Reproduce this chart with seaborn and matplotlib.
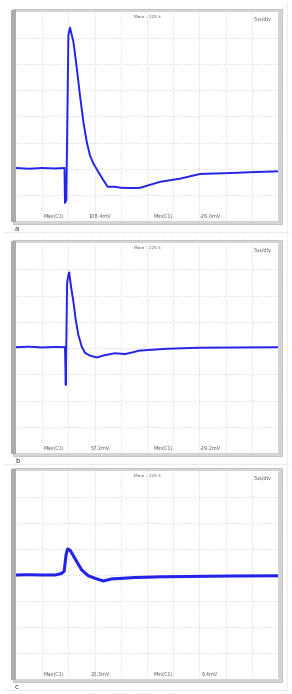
import matplotlib
matplotlib.use("Agg")
import matplotlib.pyplot as plt
from matplotlib.patches import Rectangle
from matplotlib.lines import Line2D
import seaborn as sns
import pandas as pd

# ---- data (time and voltage in screen divisions) ----
t_a = [0.0, 0.5, 1.0, 1.5, 1.85, 1.87, 1.92, 2.0, 2.06, 2.19, 2.32, 2.44, 2.57, 2.70, 2.82,
       2.95, 3.14, 3.33, 3.50, 3.78, 4.03, 4.48, 4.73, 5.5, 6.26, 7.02, 8.29, 9.0, 10.0]
v_a = [-1.97, -2.0, -1.97, -1.99, -1.97, -3.31, -3.2, 3.12, 3.40, 2.87, 1.85, 0.82, -0.2, -0.97,
       -1.48, -1.79, -2.12, -2.43, -2.69, -2.69, -2.73, -2.74, -2.73, -2.5, -2.38, -2.2, -2.16,
       -2.13, -2.1]

t_b = [0.0, 0.5, 1.0, 1.5, 1.87, 1.90, 1.95, 2.0, 2.03, 2.10, 2.19, 2.28, 2.38, 2.51, 2.63,
       2.82, 3.08, 3.40, 3.78, 4.16, 4.48, 4.7, 5.73, 7.0, 8.5, 10.0]
v_b = [0.03, 0.05, 0.02, 0.04, 0.03, -1.41, 2.47, 2.79, 2.88, 2.34, 1.77, 1.07, 0.50, 0.05,
       -0.18, -0.29, -0.36, -0.27, -0.2, -0.23, -0.16, -0.1, -0.03, 0.01, 0.02, 0.03]

t_c = [0.0, 0.5, 1.0, 1.5, 1.74, 1.84, 1.91, 1.97, 2.06, 2.19, 2.32, 2.51, 2.76, 3.02, 3.33,
       3.65, 4.03, 4.48, 5.5, 6.4, 8.0, 10.0]
v_c = [0.0, 0.01, 0.0, 0.0, 0.06, 0.15, 0.77, 1.0, 0.96, 0.74, 0.51, 0.19, -0.03, -0.13, -0.23,
       -0.15, -0.13, -0.1, -0.07, -0.06, -0.04, -0.03]

panel_labels = ["a", "b", "c"]
max_labels = ["108.4mV", "57.2mV", "22.3mV"]
min_labels = ["-26.0mV", "-29.2mV", "6.4mV"]
top_center = "Main : 125 k"
top_right = "5us/div"

traces = [(t_a, v_a), (t_b, v_b), (t_c, v_c)]

# ---- figure ----
W, H = 292, 694
fig = plt.figure(figsize=(W / 100, H / 100), dpi=100)
sns.set_style("white")

# axes boxes in pixels: (left, top, right, bottom)
boxes = [(16, 12, 278, 221), (16, 243, 278, 453), (16, 471, 278, 679)]
widths = [1.4, 1.4, 2.2]
blue = "#2323e8"
txtc = "#5a5a5a"

def fx(px):
    return px / W

def fy(py):
    return 1 - py / H

for i, ((l, t, r, b), (tt, vv)) in enumerate(zip(boxes, traces)):
    # outer frame with shadow
    fig.patches.append(Rectangle((fx(l - 3), fy(b + 3)), fx(r - l + 7), (b - t + 6) / H,
                                 transform=fig.transFigure, facecolor="#d4d4d4",
                                 edgecolor="#bdbdbd", lw=0.6, zorder=0))
    fig.patches.append(Rectangle((fx(l - 5), fy(b + 1)), fx(5), (b - t + 3) / H,
                                 transform=fig.transFigure, facecolor="#acacac",
                                 edgecolor="none", zorder=0.5))
    ax = fig.add_axes([fx(l), fy(b), fx(r - l), (b - t) / H])
    ax.set_zorder(3)
    ax.set_facecolor("white")
    df = pd.DataFrame({"t": tt, "v": vv})
    sns.lineplot(data=df, x="t", y="v", ax=ax, color=blue, lw=widths[i],
                 sort=False, estimator=None)
    ax.set_xlim(0, 10)
    ax.set_ylim(-4, 4)
    ax.set_xticks(range(1, 10))
    ax.set_yticks(range(-3, 4))
    ax.grid(True, color="#c8c8c8", ls=(0, (1, 2)), lw=0.6)
    ax.tick_params(length=0, labelleft=False, labelbottom=False)
    ax.set_xlabel("")
    ax.set_ylabel("")
    for s in ax.spines.values():
        s.set_visible(False)
    ax.text(0.5, 0.985, top_center, transform=ax.transAxes, ha="center", va="top",
            fontsize=3.2, color=txtc)
    ax.text(0.975, 0.98, top_right, transform=ax.transAxes, ha="right", va="top",
            fontsize=3.6, color=txtc)
    ax.text(0.145, 0.01, "Max(C1)", transform=ax.transAxes, ha="center", va="bottom",
            fontsize=3.6, color=txtc)
    ax.text(0.32, 0.01, max_labels[i], transform=ax.transAxes, ha="center", va="bottom",
            fontsize=3.6, color=txtc)
    ax.text(0.56, 0.01, "Min(C1)", transform=ax.transAxes, ha="center", va="bottom",
            fontsize=3.6, color=txtc)
    ax.text(0.74, 0.01, min_labels[i], transform=ax.transAxes, ha="center", va="bottom",
            fontsize=3.6, color=txtc)
    # panel letter
    fig.text(fx(15), fy(b + 8), panel_labels[i], ha="left", va="center", fontsize=5,
             color="#333333")
    # dotted separators
    fig.lines.append(Line2D([fx(4), fx(288)], [fy(b + 11), fy(b + 11)],
                            transform=fig.transFigure, color="#c8c8c8", lw=0.6,
                            ls=(0, (1, 1.5))))

fig.lines.append(Line2D([fx(287), fx(287)], [fy(2), fy(690)], transform=fig.transFigure,
                        color="#d0d0d0", lw=0.6, ls=(0, (1, 1.5))))

fig.savefig("out.png", dpi=100, facecolor="white")
